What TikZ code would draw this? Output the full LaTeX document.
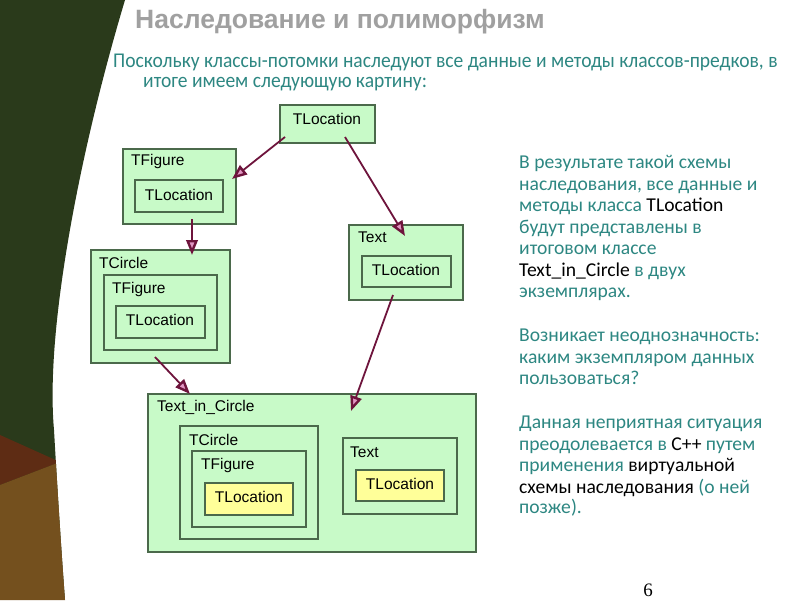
\documentclass[tikz,border=0pt]{standalone}
\usepackage{fontspec}
\setmainfont{Liberation Sans}
\newfontfamily\descfont{Carlito}
\newfontfamily\subfont[FakeStretch=0.93]{Carlito}
\newfontfamily\pnumfont{Liberation Serif}
\usetikzlibrary{arrows.meta,calc}
\definecolor{bgdark}{RGB}{42,58,27}
\definecolor{bgred}{RGB}{94,44,20}
\definecolor{bgorange}{RGB}{116,80,30}
\definecolor{boxfill}{RGB}{200,250,200}
\definecolor{yelfill}{RGB}{255,255,153}
\definecolor{boxline}{RGB}{75,105,75}
\definecolor{arrowc}{RGB}{110,20,60}
\definecolor{pinkc}{RGB}{225,150,195}
\definecolor{teal}{RGB}{45,135,130}
\definecolor{titlegrey}{RGB}{160,160,160}
\newcommand{\bx}[6]{\node[#6, anchor=north west, minimum width={#4-#2}, minimum height={#5-#3}] (#1) at (#2,#3) {};}
\begin{document}
\begin{tikzpicture}[x=1pt,y=-1pt,
  box/.style={draw=boxline, fill=boxfill, line width=1.1pt, inner sep=0pt, outer sep=0pt, rectangle},
  ybox/.style={box, fill=yelfill},
  lbl/.style={font=\fontsize{15.5}{18}\selectfont, text=black, inner sep=0pt},
  inh/.style={draw=arrowc, line width=1.8pt, -{Triangle[length=15pt,width=11.5pt,fill=pinkc,line width=2.4pt]}},
  desc/.style={anchor=west, font=\descfont\fontsize{19.6}{21.6}\selectfont, text=teal, inner sep=0pt, text height=12pt, text depth=4pt},
  subl/.style={anchor=west, font=\subfont\fontsize{21}{24}\selectfont, text=teal, inner sep=0pt}]
\useasboundingbox (0,0) rectangle (800,600);
\fill[white] (0,0) rectangle (800,600);
% left decoration
\begin{scope}
\clip (0,0) -- (125,0) .. controls (80,150) and (45,330) .. (54,430) .. controls (58,500) and (62,560) .. (65,600) -- (0,600) -- cycle;
\fill[bgdark] (0,0) rectangle (130,600);
\fill[bgred] (0,435) -- (60,462) -- (0,485) -- cycle;
\fill[bgorange] (0,485) -- (60,462) -- (80,600) -- (0,600) -- cycle;
\end{scope}
% title and subtitle
\node[anchor=west, font=\bfseries\fontsize{26.5}{30}\selectfont, text=titlegrey, inner sep=0pt] (title) at (135,22) {Наследование и полиморфизм};
\node[subl] (sub1) at (113,62) {Поскольку классы-потомки наследуют все данные и методы классов-предков, в};
\node[subl] (sub2) at (143,84) {итоге имеем следующую картину:};
% boxes
\bx{tloc}{280}{105}{375}{143}{box}
\bx{fig}{123}{149}{236}{224}{box}
\bx{figloc}{135}{180}{223}{212}{box}
\bx{circ}{91}{250}{230}{363}{box}
\bx{circfig}{104}{275}{217}{350}{box}
\bx{circloc}{116}{306}{205}{338}{box}
\bx{txt}{349}{225}{463}{300}{box}
\bx{txtloc}{362}{256}{451}{287}{box}
\bx{tic}{148}{394}{476}{552}{box}
\bx{ticcirc}{180}{426}{318}{539}{box}
\bx{ticfig}{192}{451}{306}{527}{box}
\bx{ticloc}{205}{483}{293}{515}{ybox}
\bx{tictxt}{343}{438}{457}{514}{box}
\bx{tictloc}{356}{470}{444}{501}{ybox}
% labels
\node[lbl] (l1) at (327,119) {TLocation};
\node[lbl, anchor=west] (l2) at (131,161) {TFigure};
\node[lbl] (l3) at (179,195) {TLocation};
\node[lbl, anchor=west] (l4) at (99,263) {TCircle};
\node[lbl, anchor=west] (l5) at (112,289) {TFigure};
\node[lbl] (l6) at (160,320) {TLocation};
\node[lbl, anchor=west] (l7) at (358,237) {Text};
\node[lbl] (l8) at (406,270) {TLocation};
\node[lbl, anchor=west] (l9) at (157,407) {Text\_in\_Circle};
\node[lbl, anchor=west] (l10) at (189,440) {TCircle};
\node[lbl, anchor=west] (l11) at (201,465) {TFigure};
\node[lbl] (l12) at (249,497) {TLocation};
\node[lbl, anchor=west] (l13) at (350,452) {Text};
\node[lbl] (l14) at (400,484) {TLocation};
% arrows
\coordinate (a1s) at (285,137); \coordinate (a1e) at (232,179);
\coordinate (a2s) at (345,137); \coordinate (a2e) at (405,236);
\coordinate (a3s) at (192,219); \coordinate (a3e) at (192,255);
\coordinate (a4s) at (155,357); \coordinate (a4e) at (190,394);
\coordinate (a5s) at (393,295); \coordinate (a5e) at (351,411);
\draw[inh] (a1s) -- (a1e);
\draw[inh] (a2s) -- (a2e);
\draw[inh] (a3s) -- (a3e);
\draw[inh] (a4s) -- (a4e);
\draw[inh] (a5s) -- (a5e);
% description
\node[desc] (d1) at (519,164) {В результате такой схемы};
\node[desc] (d2) at (519,186) {наследования, все данные и};
\node[desc] (d3) at (519,207) {методы класса \textcolor{black}{TLocation}};
\node[desc] (d4) at (519,229) {будут представлены в};
\node[desc] (d5) at (519,250) {итоговом классе};
\node[desc] (d6) at (519,272) {\textcolor{black}{Text\_in\_Circle} в двух};
\node[desc] (d7) at (519,293) {экземплярах.};
\node[desc] (d8) at (519,337) {Возникает неоднозначность:};
\node[desc] (d9) at (519,359) {каким экземпляром данных};
\node[desc] (d10) at (519,380) {пользоваться?};
\node[desc] (d11) at (519,424) {Данная неприятная ситуация};
\node[desc] (d12) at (519,446) {преодолевается в \textcolor{black}{C++} путем};
\node[desc] (d13) at (519,467) {применения \textcolor{black}{виртуальной}};
\node[desc] (d14) at (519,489) {\textcolor{black}{схемы наследования} (о ней};
\node[desc] (d15) at (519,509) {позже).};
% page number
\node[anchor=north, font=\pnumfont\fontsize{19}{22}\selectfont, inner sep=0pt] (pnum) at (648,584) {6};
\end{tikzpicture}
\end{document}
